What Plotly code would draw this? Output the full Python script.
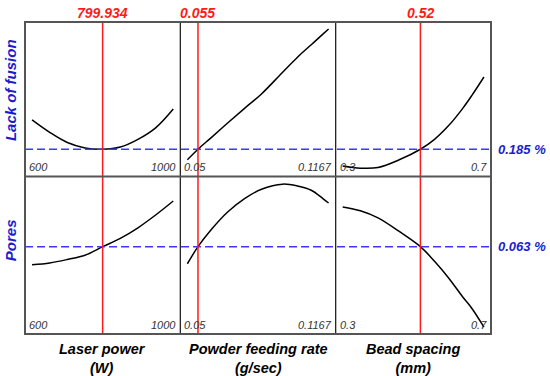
import plotly.graph_objects as go

# ---------------- data ----------------
power_x = [600, 650, 700, 750, 800, 850, 900, 950, 1000]
lof_vs_power = [0.277, 0.238, 0.206, 0.189, 0.185, 0.192, 0.216, 0.252, 0.311]
pores_vs_power = [0.0541, 0.0550, 0.0567, 0.0588, 0.063, 0.0671, 0.0723, 0.0786, 0.0855]

rate_x = [0.05, 0.055, 0.061, 0.069, 0.077, 0.085, 0.095, 0.102, 0.1085, 0.114, 0.1167]
lof_vs_rate = [0.152, 0.185, 0.220, 0.267, 0.313, 0.358, 0.426, 0.473, 0.512, 0.545, 0.561]
pores_vs_rate = [0.0546, 0.063, 0.0711, 0.0801, 0.0867, 0.0913, 0.0938, 0.0929, 0.0908, 0.0867, 0.0845]

spacing_x = [0.30, 0.35, 0.40, 0.46, 0.52, 0.56, 0.60, 0.64, 0.665, 0.70]
lof_vs_spacing = [0.133, 0.126, 0.128, 0.152, 0.185, 0.216, 0.259, 0.313, 0.352, 0.411]
pores_vs_spacing = [0.0826, 0.0807, 0.0772, 0.0705, 0.063, 0.0558, 0.0476, 0.0382, 0.0328, 0.0234]

factor_names = ["Laser power<br>(W)", "Powder feeding rate<br>(g/sec)", "Bead spacing<br>(mm)"]
factor_min_labels = ["600", "0.05", "0.3"]
factor_max_labels = ["1000", "0.1167", "0.7"]
factor_ranges = [(600, 1000), (0.05, 0.1167), (0.3, 0.7)]
current_settings = [799.934, 0.055, 0.52]
current_labels = ["799.934", "0.055", "0.52"]

response_names = ["Lack of fusion", "Pores"]
response_values = [0.185, 0.063]
response_labels = ["0.185 %", "0.063 %"]
response_ranges = [(0.10, 0.583), (0.02, 0.0976)]

xs = [power_x, rate_x, spacing_x]
ys = [[lof_vs_power, lof_vs_rate, lof_vs_spacing],
      [pores_vs_power, pores_vs_rate, pores_vs_spacing]]

# ---------------- figure ----------------
FONT = "Arial, Liberation Sans, sans-serif"
fig = go.Figure()
layout = {}
split = 0.505
row_domains = [[split, 1.0], [0.0, split]]

for r in range(2):
    for c in range(3):
        i = r * 3 + c + 1
        xa = "x" if i == 1 else f"x{i}"
        ya = "y" if i == 1 else f"y{i}"
        lo, hi = factor_ranges[c]
        pad = (hi - lo) * 0.05
        layout["xaxis" if i == 1 else f"xaxis{i}"] = dict(
            domain=[c / 3, (c + 1) / 3], range=[lo - pad, hi + pad], anchor=ya,
            showgrid=False, zeroline=False, showticklabels=False, showline=False, ticks="")
        layout["yaxis" if i == 1 else f"yaxis{i}"] = dict(
            domain=row_domains[r], range=list(response_ranges[r]), anchor=xa,
            showgrid=False, zeroline=False, showticklabels=False, showline=False, ticks="")
        fig.add_trace(go.Scatter(x=xs[c], y=ys[r][c], mode="lines",
                                 line=dict(color="black", width=1.5, shape="spline"),
                                 xaxis=xa, yaxis=ya, showlegend=False, hoverinfo="skip"))

fig.update_layout(**layout)

shapes = []
annotations = []

# blue dashed response lines
for r in range(2):
    ya = "y" if r == 0 else "y4"
    shapes.append(dict(type="line", xref="paper", yref=ya, x0=0, x1=1,
                       y0=response_values[r], y1=response_values[r],
                       line=dict(color="#3a3aff", width=1.6, dash="8px,4px")))
    annotations.append(dict(xref="paper", yref=ya, x=1, y=response_values[r],
                            xanchor="left", yanchor="middle", xshift=5,
                            text=f"<b><i>{response_labels[r]}</i></b>", showarrow=False,
                            font=dict(family=FONT, size=13, color="#1c1ccc")))

# red current-setting lines
for c in range(3):
    xa = "x" if c == 0 else f"x{c + 1}"
    shapes.append(dict(type="line", xref=xa, yref="paper", x0=current_settings[c],
                       x1=current_settings[c], y0=0, y1=1,
                       line=dict(color="#ff1a1a", width=1.5)))
    annotations.append(dict(xref=xa, yref="paper", x=current_settings[c], y=1.029,
                            xanchor="center", yanchor="middle",
                            text=f"<b><i>{current_labels[c]}</i></b>", showarrow=False,
                            font=dict(family=FONT, size=14, color="#ff1a1a")))
    # factor titles
    annotations.append(dict(xref="paper", yref="paper", x=(c + 0.5) / 3, y=-0.077,
                            xanchor="center", yanchor="middle",
                            text=f"<b><i>{factor_names[c]}</i></b>", showarrow=False,
                            font=dict(family=FONT, size=14.5, color="black")))
    # corner range labels
    for r in range(2):
        ybase = row_domains[r][0]
        annotations.append(dict(xref="paper", yref="paper", x=c / 3, y=ybase,
                                xanchor="left", yanchor="bottom", xshift=2, yshift=1,
                                text=f"<i>{factor_min_labels[c]}</i>", showarrow=False,
                                font=dict(family=FONT, size=11, color="#333333")))
        annotations.append(dict(xref="paper", yref="paper", x=(c + 1) / 3, y=ybase,
                                xanchor="right", yanchor="bottom", xshift=-2, yshift=1,
                                text=f"<i>{factor_max_labels[c]}</i>", showarrow=False,
                                font=dict(family=FONT, size=11, color="#333333")))

# response titles
for r, ypos in enumerate([0.782, 0.301]):
    annotations.append(dict(xref="paper", yref="paper", x=-0.032, y=ypos,
                            xanchor="center", yanchor="middle", textangle=-90,
                            text=f"<b><i>{response_names[r]}</i></b>", showarrow=False,
                            font=dict(family=FONT, size=15, color="#1c1ccc")))

# frame and dividers
for c in (1, 2):
    shapes.append(dict(type="line", xref="paper", yref="paper", x0=c / 3, x1=c / 3,
                       y0=0, y1=1, line=dict(color="#222222", width=1.3)))
shapes.append(dict(type="line", xref="paper", yref="paper", x0=0, x1=1,
                   y0=split, y1=split, line=dict(color="#555555", width=2)))
shapes.append(dict(type="rect", xref="paper", yref="paper", x0=0, x1=1, y0=0, y1=1,
                   line=dict(color="#555555", width=2)))

fig.update_layout(
    width=550, height=376,
    margin=dict(l=25, r=59, t=22, b=42),
    paper_bgcolor="white", plot_bgcolor="white",
    shapes=shapes, annotations=annotations, showlegend=False,
)

# remove the default page margin so the figure sits at the window's top-left corner
fig.write_html("out.html",
               config={"displayModeBar": False},
               post_script="document.body.style.margin='0';document.body.style.overflow='hidden';")
